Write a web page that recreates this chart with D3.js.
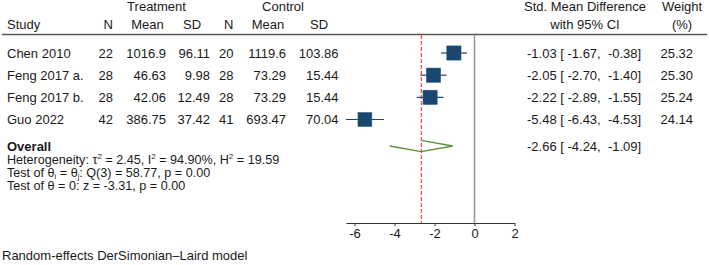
<!DOCTYPE html>
<html>
<head>
<meta charset="utf-8">
<script src="https://cdn.jsdelivr.net/npm/d3@7"></script>
<style>
  html, body { margin: 0; padding: 0; background: #fff; }
  svg { display: block; font-family: "Liberation Sans", Arial, sans-serif; }
  text { fill: #1a1a1a; font-size: 13px; }
  .pre { white-space: pre; }
  .foot { font-size: 12.6px; }
</style>
</head>
<body>
<svg id="chart" width="709" height="265"></svg>
<script>
// ---- data ----
const studies = ["Chen 2010", "Feng 2017 a.", "Feng 2017 b.", "Guo 2022"];
const tN = [22, 28, 28, 42];
const tMean = [1016.9, 46.63, 42.06, 386.75];
const tSD = [96.11, 9.98, 12.49, 37.42];
const cN = [20, 28, 28, 41];
const cMean = [1119.6, 73.29, 73.29, 693.47];
const cSD = [103.86, 15.44, 15.44, 70.04];
const smd = [-1.03, -2.05, -2.22, -5.48];
const ciLow = [-1.67, -2.70, -2.89, -6.43];
const ciHigh = [-0.38, -1.40, -1.55, -4.53];
const weights = [25.32, 25.30, 25.24, 24.14];
const overall = [-2.66, -4.24, -1.09]; // estimate, low, high
const xTicks = [-6, -4, -2, 0, 2];
const hetero = { tau2: "2.45", i2: "94.90%", h2: "19.59" };
const qTest = { df: 3, q: "58.77", p: "0.00" };
const zTest = { z: "-3.31", p: "0.00" };

// ---- layout ----
const svg = d3.select("#chart");
const x = d3.scaleLinear().domain([-6.43, 2]).range([345.9, 514.5]);
const y = d3.scaleLinear().domain([0, 3]).range([53, 119.5]);
const overallY = 146;
const axisY = 223;
const topY = 35;
const f2 = v => v.toFixed(2);
const ciText = (e, l, h) => `${f2(e)} [ ${f2(l)},  ${f2(h)}]`;

// header
const hdr = svg.append("g");
hdr.append("text").attr("x", 156.5).attr("y", 11).attr("text-anchor", "middle").text("Treatment");
hdr.append("text").attr("x", 283).attr("y", 11).attr("text-anchor", "middle").text("Control");
hdr.append("text").attr("x", 585).attr("y", 11).attr("text-anchor", "middle").text("Std. Mean Difference");
hdr.append("text").attr("x", 682).attr("y", 11).attr("text-anchor", "middle").text("Weight");
hdr.append("text").attr("x", 7).attr("y", 28.5).text("Study");
hdr.append("text").attr("x", 113).attr("y", 28.5).attr("text-anchor", "end").text("N");
hdr.append("text").attr("x", 147.5).attr("y", 28.5).attr("text-anchor", "middle").text("Mean");
hdr.append("text").attr("x", 192).attr("y", 28.5).attr("text-anchor", "middle").text("SD");
hdr.append("text").attr("x", 233.5).attr("y", 28.5).attr("text-anchor", "end").text("N");
hdr.append("text").attr("x", 268).attr("y", 28.5).attr("text-anchor", "middle").text("Mean");
hdr.append("text").attr("x", 319).attr("y", 28.5).attr("text-anchor", "middle").text("SD");
hdr.append("text").attr("x", 585).attr("y", 28.5).attr("text-anchor", "middle").text("with 95% CI");
hdr.append("text").attr("x", 682).attr("y", 28.5).attr("text-anchor", "middle").text("(%)");

svg.append("line").attr("x1", 2).attr("x2", 707).attr("y1", 34.5).attr("y2", 34.5)
  .attr("stroke", "#555").attr("stroke-width", 1.5);

// zero line and overall line
svg.append("line").attr("x1", x(0)).attr("x2", x(0)).attr("y1", topY).attr("y2", axisY)
  .attr("stroke", "#9a9a9a").attr("stroke-width", 1.6);
svg.append("line").attr("x1", x(overall[0])).attr("x2", x(overall[0])).attr("y1", topY).attr("y2", axisY)
  .attr("stroke", "#ff2a2a").attr("stroke-width", 1.1).attr("stroke-dasharray", "4,2");

// study rows
const cols = [
  { vals: tN, x: 113 }, { vals: tMean, x: 166 }, { vals: tSD, x: 210 },
  { vals: cN, x: 233.5 }, { vals: cMean, x: 286 }, { vals: cSD, x: 338.5 }
];
studies.forEach((s, i) => {
  const yy = y(i);
  const g = svg.append("g");
  g.append("text").attr("x", 7).attr("y", yy).attr("dy", "0.36em").text(s);
  cols.forEach(c => {
    g.append("text").attr("x", c.x).attr("y", yy).attr("dy", "0.36em")
      .attr("text-anchor", "end").text(String(c.vals[i]));
  });
  g.append("text").attr("class", "pre").attr("x", 527).attr("y", yy).attr("dy", "0.36em")
    .text(ciText(smd[i], ciLow[i], ciHigh[i]));
  g.append("text").attr("x", 693).attr("y", yy).attr("dy", "0.36em")
    .attr("text-anchor", "end").text(f2(weights[i]));
  g.append("line").attr("x1", x(ciLow[i])).attr("x2", x(ciHigh[i])).attr("y1", yy).attr("y2", yy)
    .attr("stroke", "#1a476f").attr("stroke-width", 1.2);
  const side = 2.82 * Math.sqrt(weights[i]);
  g.append("rect").attr("x", x(smd[i]) - side / 2).attr("y", yy - side / 2)
    .attr("width", side).attr("height", side)
    .attr("fill", "#1a476f").attr("stroke", "#2a5a85").attr("stroke-width", 0.6);
});

// overall
svg.append("text").attr("x", 7).attr("y", overallY).attr("dy", "0.36em")
  .attr("font-weight", "bold").text("Overall");
svg.append("text").attr("class", "pre").attr("x", 527).attr("y", overallY).attr("dy", "0.36em")
  .text(ciText(overall[0], overall[1], overall[2]));
const dh = 5.6;
const diamond = [
  [x(overall[0]), overallY - dh], [x(overall[2]), overallY],
  [x(overall[0]), overallY + dh], [x(overall[1]), overallY]
];
svg.append("path").attr("d", d3.line()(diamond))
  .attr("fill", "none").attr("stroke", "#5f8f3a").attr("stroke-width", 1.3);

// footers
const t1 = svg.append("text").attr("class", "foot").attr("x", 7).attr("y", 164);
t1.append("tspan").text("Heterogeneity: τ");
t1.append("tspan").attr("dy", -5).attr("font-size", "8px").text("2");
t1.append("tspan").attr("dy", 5).text(` = ${hetero.tau2}, I`);
t1.append("tspan").attr("dy", -5).attr("font-size", "8px").text("2");
t1.append("tspan").attr("dy", 5).text(` = ${hetero.i2}, H`);
t1.append("tspan").attr("dy", -5).attr("font-size", "8px").text("2");
t1.append("tspan").attr("dy", 5).text(` = ${hetero.h2}`);

const t2 = svg.append("text").attr("class", "foot").attr("x", 7).attr("y", 177);
t2.append("tspan").text("Test of θ");
t2.append("tspan").attr("dy", 1.5).attr("font-size", "7.5px").text("i");
t2.append("tspan").attr("dy", -1.5).text(" = θ");
t2.append("tspan").attr("dy", 1.5).attr("font-size", "7.5px").text("j");
t2.append("tspan").attr("dy", -1.5).text(`: Q(${qTest.df}) = ${qTest.q}, p = ${qTest.p}`);

svg.append("text").attr("class", "foot").attr("x", 7).attr("y", 190.3)
  .text(`Test of θ = 0: z = ${zTest.z}, p = ${zTest.p}`);

svg.append("text").attr("x", 2).attr("y", 259.5).text("Random-effects DerSimonian–Laird model");

// axis
const axis = svg.append("g").attr("transform", `translate(0,${axisY})`)
  .call(d3.axisBottom(x).tickValues(xTicks).tickFormat(d => String(d)).tickSize(3).tickSizeOuter(0));
axis.select(".domain").attr("stroke", "#333").attr("stroke-width", 1.2);
axis.selectAll(".tick line").attr("stroke", "#333");
axis.selectAll(".tick text").attr("font-size", "13px").attr("font-family", "Liberation Sans, Arial, sans-serif")
  .attr("fill", "#1a1a1a").attr("y", 6);
</script>
</body>
</html>
